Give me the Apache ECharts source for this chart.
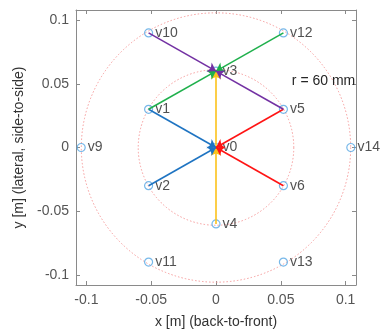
<!DOCTYPE html>
<html>
<head>
<meta charset="utf-8">
<script src="https://cdn.jsdelivr.net/npm/echarts@6/dist/echarts.min.js"></script>
<style>
html,body{margin:0;padding:0;background:#fff;}
#c{width:381px;height:334px;}
</style>
</head>
<body>
<div id="c"></div>
<script>
// ---- data ----
var vertexNames = ['v0','v1','v2','v3','v4','v5','v6','v9','v10','v11','v12','v13','v14'];
var vertexX = [0, -0.052, -0.052, 0, 0, 0.052, 0.052, -0.104, -0.052, -0.052, 0.052, 0.052, 0.104];
var vertexY = [0, 0.03, -0.03, 0.06, -0.06, 0.03, -0.03, 0, 0.09, -0.09, 0.09, -0.09, 0];
var edgeFrom = ['v4','v0','v1','v2','v5','v6','v1','v12','v10','v5'];
var edgeTo   = ['v0','v3','v0','v0','v0','v0','v3','v3','v3','v3'];
var edgeGroup = ['yellow','yellow','blue','blue','red','red','green','green','purple','purple'];
var xTicks = [-0.1, -0.05, 0, 0.05, 0.1];
var yTicks = [-0.1, -0.05, 0, 0.05, 0.1];
var tickLabels = ['-0.1', '-0.05', '0', '0.05', '0.1'];
var ringRadii = [0.06, 0.1039];
var annotation = 'r = 60 mm';

var groupColor = {blue:'#1f74c2', red:'#ff1414', yellow:'#fcc21b', green:'#1fb04c', purple:'#7331a3'};
var FS = 14;

function idx(n){ return vertexNames.indexOf(n); }
function lbl(v){ var i = xTicks.indexOf(v); return i >= 0 ? tickLabels[i] : ''; }

var groups = ['yellow','blue','red','green','purple'];
var lineSeries = groups.map(function(g){
  var data = [];
  for (var k = 0; k < edgeFrom.length; k++) {
    if (edgeGroup[k] !== g) continue;
    var a = idx(edgeFrom[k]), b = idx(edgeTo[k]);
    data.push({coords: [[vertexX[a], vertexY[a]], [vertexX[b], vertexY[b]]]});
  }
  return {
    type: 'lines', coordinateSystem: 'cartesian2d', z: 3,
    symbol: ['none', 'arrow'], symbolSize: 8,
    lineStyle: {color: groupColor[g], width: 1.6, opacity: 1},
    data: data
  };
});

var pts = vertexNames.map(function(n, i){ return {name: n, value: [vertexX[i], vertexY[i]]}; });

var gridLine = {show: true, onZero: false, lineStyle: {color: '#8a8a8a', width: 1}};
function ticks(vals){ return {show: true, inside: true, length: 4, lineStyle: {color: '#8a8a8a'}, customValues: vals}; }

var chart = echarts.init(document.getElementById('c'), null, {renderer: 'canvas'});
var option = {
  animation: false,
  grid: {left: 76, right: 25, top: 10, bottom: 46, containLabel: false},
  xAxis: [{
    type: 'value', min: -0.108, max: 0.108, position: 'bottom',
    name: 'x [m] (back-to-front)', nameLocation: 'middle', nameGap: 30,
    nameTextStyle: {fontFamily: 'Liberation Sans', fontSize: FS, color: '#333'},
    axisLine: gridLine, axisTick: ticks(xTicks), splitLine: {show: false},
    axisLabel: {customValues: xTicks, formatter: lbl, fontFamily: 'Liberation Sans', fontSize: FS, color: '#555', margin: 8}
  }, {
    type: 'value', min: -0.108, max: 0.108, position: 'top',
    axisLine: gridLine, axisTick: ticks(xTicks),
    axisLabel: {show: false}, splitLine: {show: false}
  }],
  yAxis: [{
    type: 'value', min: -0.108, max: 0.108, position: 'left',
    name: 'y [m] (lateral, side-to-side)', nameLocation: 'middle', nameGap: 41,
    nameTextStyle: {fontFamily: 'Liberation Sans', fontSize: FS, color: '#333'},
    axisLine: gridLine, axisTick: ticks(yTicks), splitLine: {show: false},
    axisLabel: {customValues: yTicks, formatter: lbl, fontFamily: 'Liberation Sans', fontSize: FS, color: '#555', margin: 7}
  }, {
    type: 'value', min: -0.108, max: 0.108, position: 'right',
    axisLine: gridLine, axisTick: ticks(yTicks),
    axisLabel: {show: false}, splitLine: {show: false}
  }],
  series: lineSeries.concat([{
    type: 'scatter', z: 2, symbol: 'circle', symbolSize: 8,
    itemStyle: {color: 'rgba(255,255,255,0)', borderColor: '#55a6e3', borderWidth: 1.2},
    label: {show: true, position: 'right', distance: 2, formatter: '{b}',
            fontFamily: 'Liberation Sans', fontSize: FS, color: '#262626'},
    data: pts
  }])
};
chart.setOption(option);

var c0 = chart.convertToPixel({xAxisIndex: 0, yAxisIndex: 0}, [0, 0]);
var graphics = ringRadii.map(function(r){
  var p = chart.convertToPixel({xAxisIndex: 0, yAxisIndex: 0}, [r, 0]);
  return {type: 'circle', z: 1, silent: true,
    shape: {cx: c0[0], cy: c0[1], r: p[0] - c0[0]},
    style: {fill: 'none', stroke: '#f59a9a', lineWidth: 1, lineDash: [1.5, 2]}};
});
var tp = chart.convertToPixel({xAxisIndex: 0, yAxisIndex: 0}, [0.0585, 0.052]);
graphics.push({type: 'text', z: 5, x: tp[0], y: tp[1],
  style: {text: annotation, fontFamily: 'Liberation Sans', fontSize: FS, fill: '#262626', textVerticalAlign: 'middle', verticalAlign: 'middle'}});
chart.setOption({graphic: graphics});
</script>
</body>
</html>
